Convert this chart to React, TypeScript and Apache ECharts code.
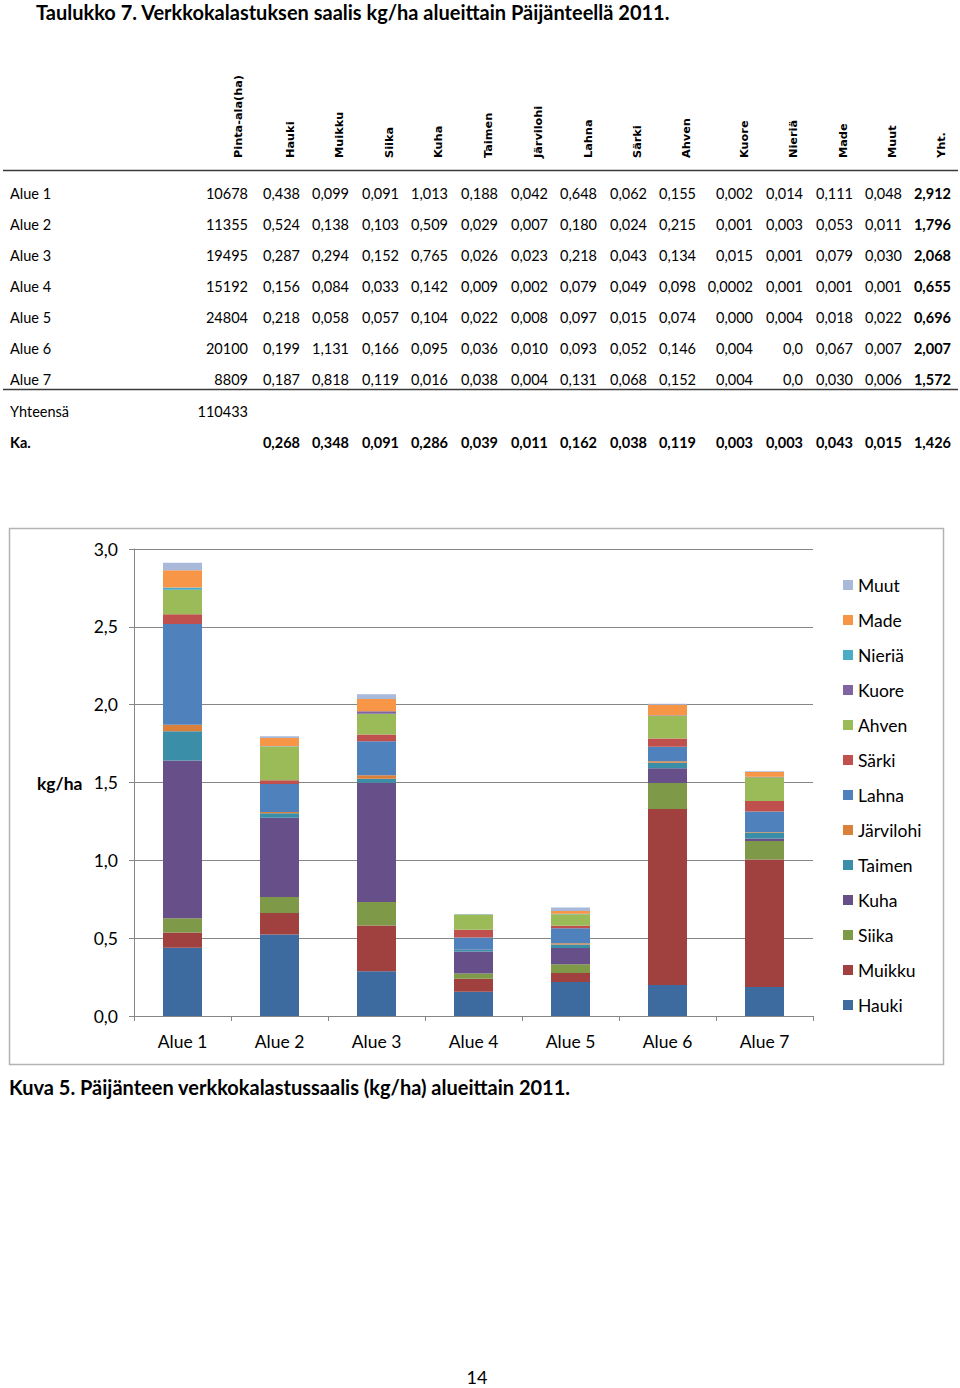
import React, { useEffect, useRef } from 'react';
import * as echarts from 'echarts';

// ---------- DATA ----------
const areas = ['Alue 1', 'Alue 2', 'Alue 3', 'Alue 4', 'Alue 5', 'Alue 6', 'Alue 7'];
const pintaAla = ['10678', '11355', '19495', '15192', '24804', '20100', '8809'];
const headerLabels = ['Pinta-ala(ha)', 'Hauki', 'Muikku', 'Siika', 'Kuha', 'Taimen', 'Järvilohi', 'Lahna', 'Särki', 'Ahven', 'Kuore', 'Nieriä', 'Made', 'Muut', 'Yht.'];
const species = ['Hauki', 'Muikku', 'Siika', 'Kuha', 'Taimen', 'Järvilohi', 'Lahna', 'Särki', 'Ahven', 'Kuore', 'Nieriä', 'Made', 'Muut'];

const hauki = ['0,438', '0,524', '0,287', '0,156', '0,218', '0,199', '0,187'];
const muikku = ['0,099', '0,138', '0,294', '0,084', '0,058', '1,131', '0,818'];
const siika = ['0,091', '0,103', '0,152', '0,033', '0,057', '0,166', '0,119'];
const kuha = ['1,013', '0,509', '0,765', '0,142', '0,104', '0,095', '0,016'];
const taimen = ['0,188', '0,029', '0,026', '0,009', '0,022', '0,036', '0,038'];
const jarvilohi = ['0,042', '0,007', '0,023', '0,002', '0,008', '0,010', '0,004'];
const lahna = ['0,648', '0,180', '0,218', '0,079', '0,097', '0,093', '0,131'];
const sarki = ['0,062', '0,024', '0,043', '0,049', '0,015', '0,052', '0,068'];
const ahven = ['0,155', '0,215', '0,134', '0,098', '0,074', '0,146', '0,152'];
const kuore = ['0,002', '0,001', '0,015', '0,0002', '0,000', '0,004', '0,004'];
const nieria = ['0,014', '0,003', '0,001', '0,001', '0,004', '0,0', '0,0'];
const made = ['0,111', '0,053', '0,079', '0,001', '0,018', '0,067', '0,030'];
const muut = ['0,048', '0,011', '0,030', '0,001', '0,022', '0,007', '0,006'];
const yht = ['2,912', '1,796', '2,068', '0,655', '0,696', '2,007', '1,572'];
const yhteensa = '110433';
const kaRow = ['0,268', '0,348', '0,091', '0,286', '0,039', '0,011', '0,162', '0,038', '0,119', '0,003', '0,003', '0,043', '0,015', '1,426'];

const speciesValues = [hauki, muikku, siika, kuha, taimen, jarvilohi, lahna, sarki, ahven, kuore, nieria, made, muut];
const speciesColors = ['#3D6A9F', '#A0403F', '#7E9A48', '#67508A', '#3A8EA8', '#D9803A', '#4F81BD', '#C0504D', '#9BBB59', '#8064A2', '#4BACC6', '#F79646', '#A8B9DA'];

const yMin = 0;
const yMax = 3;
const yStep = 0.5;

const toNum = (s: string) => parseFloat(s.replace(',', '.'));

// ---------- LAYOUT ----------
const FONT = 'Lato, "Open Sans", sans-serif';
const HEAD_FONT = '"DejaVu Sans", Verdana, sans-serif';
const colRight = [248, 300, 349, 399, 448, 498, 548, 597, 647, 696, 753, 803, 853, 902, 951];
const colHeadX = [238, 290, 339, 389, 438, 488, 538, 588, 637, 686, 744, 793, 843, 892, 941];
const rowY0 = 193;
const rowStep = 31;

export default function App() {
  const ref = useRef<HTMLDivElement>(null);

  useEffect(() => {
    const chart = echarts.init(ref.current!, null, { renderer: 'svg' });

    const txt = (x: number, y: number, text: string, opts: any = {}) => ({
      type: 'text',
      x,
      y,
      rotation: opts.rotation || 0,
      silent: true,
      style: {
        text,
        fontFamily: opts.fontFamily || FONT,
        fontSize: opts.fontSize || 14.5,
        fontWeight: opts.fontWeight || 'normal',
        fill: opts.fill || '#000',
        align: opts.align || 'left',
        textAlign: opts.align || 'left',
        verticalAlign: 'middle',
        textVerticalAlign: 'middle',
      },
    });

    const g: any[] = [];
    // Page title
    g.push(txt(36, 12, 'Taulukko 7. Verkkokalastuksen saalis kg/ha alueittain Päijänteellä 2011.', { fontSize: 20, fontWeight: 'bold' }));

    // Header labels (rotated)
    headerLabels.forEach((h, i) => {
      g.push(txt(colHeadX[i], 158, h, { rotation: Math.PI / 2, fontFamily: HEAD_FONT, fontSize: 11.3, fontWeight: 'bold' }));
    });

    // Table lines
    g.push({ type: 'line', silent: true, shape: { x1: 3, y1: 170.5, x2: 958, y2: 170.5 }, style: { stroke: '#3a3a3a', lineWidth: 1.5 } });
    g.push({ type: 'line', silent: true, shape: { x1: 3, y1: 389.5, x2: 958, y2: 389.5 }, style: { stroke: '#3a3a3a', lineWidth: 1.5 } });

    // Data rows
    areas.forEach((a, r) => {
      const y = rowY0 + r * rowStep;
      g.push(txt(10, y, a));
      g.push(txt(colRight[0], y, pintaAla[r], { align: 'right' }));
      speciesValues.forEach((arr, c) => {
        g.push(txt(colRight[c + 1], y, arr[r], { align: 'right' }));
      });
      g.push(txt(colRight[14], y, yht[r], { align: 'right', fontWeight: 'bold' }));
    });
    const yY = rowY0 + 7 * rowStep + 1;
    g.push(txt(10, yY, 'Yhteensä'));
    g.push(txt(colRight[0], yY, yhteensa, { align: 'right' }));
    const kaY = yY + rowStep;
    g.push(txt(10, kaY, 'Ka.', { fontWeight: 'bold' }));
    kaRow.forEach((v, c) => {
      g.push(txt(colRight[c + 1], kaY, v, { align: 'right', fontWeight: 'bold' }));
    });

    // Chart frame
    g.push({ type: 'rect', silent: true, shape: { x: 9.5, y: 528.5, width: 934, height: 536 }, style: { fill: 'none', stroke: '#B3B3B3', lineWidth: 1.5 } });
    // Axis title
    g.push(txt(37, 783, 'kg/ha', { fontSize: 17.5, fontWeight: 'bold' }));
    // Caption
    g.push(txt(9, 1087, 'Kuva 5. Päijänteen verkkokalastussaalis (kg/ha) alueittain 2011.', { fontSize: 20, fontWeight: 'bold' }));
    // Page number
    g.push(txt(477, 1377, '14', { fontSize: 18, align: 'center' }));

    const series = species.map((name, i) => ({
      name,
      type: 'bar',
      stack: 'total',
      barWidth: 39,
      data: speciesValues[i].map(toNum),
      itemStyle: { color: speciesColors[i] },
      emphasis: { disabled: true },
    }));

    chart.setOption({
      animation: false,
      backgroundColor: '#fff',
      textStyle: { fontFamily: FONT },
      grid: { left: 134, top: 549, width: 679, height: 467, containLabel: false },
      legend: {
        orient: 'vertical',
        left: 843,
        top: 575,
        padding: 0,
        itemWidth: 10,
        itemHeight: 10,
        itemGap: 15,
        icon: 'rect',
        data: [...species].reverse(),
        selectedMode: false,
        textStyle: { fontSize: 17.5, color: '#000', fontFamily: FONT, lineHeight: 20 },
      },
      xAxis: {
        type: 'category',
        data: areas,
        axisLine: { lineStyle: { color: '#868686', width: 1 } },
        axisTick: { show: true, length: 5, lineStyle: { color: '#868686' } },
        axisLabel: { fontSize: 17.5, color: '#000', margin: 16, fontFamily: FONT },
      },
      yAxis: {
        type: 'value',
        min: yMin,
        max: yMax,
        interval: yStep,
        axisLine: { show: true, lineStyle: { color: '#868686', width: 1 } },
        axisTick: { show: true, length: 5, lineStyle: { color: '#868686' } },
        splitLine: { lineStyle: { color: '#868686', width: 1 } },
        axisLabel: {
          fontSize: 17.5,
          color: '#000',
          margin: 16,
          fontFamily: FONT,
          formatter: (v: number) => v.toFixed(1).replace('.', ','),
        },
      },
      series,
      graphic: { elements: g },
    });

    return () => chart.dispose();
  }, []);

  return <div ref={ref} style={{ position: 'absolute', left: 0, top: 0, width: 960, height: 1388 }} />;
}
